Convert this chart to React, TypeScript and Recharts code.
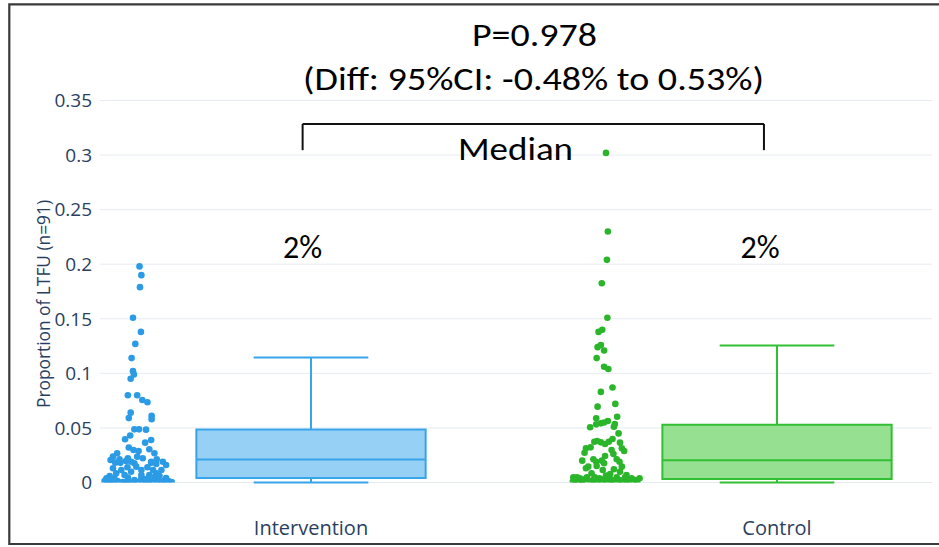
import {
  ComposedChart,
  Scatter,
  XAxis,
  YAxis,
  CartesianGrid,
  ReferenceArea,
  ReferenceLine,
} from "recharts";

const CATEGORIES = ["Intervention", "Control"];
const Y_TICKS = [0, 0.05, 0.1, 0.15, 0.2, 0.25, 0.3, 0.35];

// raw proportions per site
const interventionValues = [
  0.198, 0.19, 0.179, 0.151, 0.138, 0.127, 0.114, 0.102, 0.099, 0.095,
  0.08, 0.08, 0.0756, 0.0735, 0.064, 0.059, 0.061, 0.058, 0.0487, 0.0487,
  0.0484, 0.043, 0.0396, 0.0365, 0.039, 0.032, 0.0298, 0.0289, 0.0304, 0.0268,
  0.0213, 0.0268, 0.0237, 0.0206, 0.0213, 0.0182, 0.0222, 0.019, 0.0237, 0.0222,
  0.019, 0.019, 0.016, 0.013, 0.0115, 0.014, 0.0099, 0.0145, 0.0115, 0.014,
  0.0115, 0.0084, 0.0084, 0.006, 0.0069, 0.0069, 0.0069, 0.0014, 0.0005, 0.0017,
  0.0005, 0.0014, 0.0005, 0.001, 0.0005, 0.0023, 0.0005, 0.0014, 0.0005, 0.0018,
  0.0005, 0.0014, 0.0005, 0.0018, 0.0014, 0.0005, 0.004, 0.0045, 0.005, 0.006,
  0.018, 0.017, 0.0176, 0.0115, 0, 0.0032, 0.0041, 0.0041, 0.0038, 0.018,
  0.0197,
];
const interventionJitter = [
  0.0, 0.04, 0.01, -0.14, 0.03, -0.09, -0.17, -0.14, -0.12, -0.19,
  -0.25, -0.05, 0.06, 0.17, -0.19, -0.23, 0.26, 0.26, -0.11, -0.01,
  0.14, -0.2, -0.31, 0.12, 0.25, -0.23, -0.13, -0.02, 0.21, 0.32,
  0.37, -0.48, -0.57, -0.62, -0.43, -0.52, -0.25, -0.18, -0.05, 0.07,
  0.25, 0.5, 0.57, -0.57, -0.39, -0.26, -0.18, -0.07, 0.04, 0.17,
  0.29, 0.36, -0.5, -0.64, -0.32, 0.04, 0.21, -0.75, -0.68, -0.61,
  -0.54, -0.47, -0.36, -0.25, -0.18, -0.11, -0.04, 0.07, 0.14, 0.21,
  0.29, 0.39, 0.47, 0.54, 0.62, 0.69, 0.04, -0.25, 0.32, 0.43,
  -0.41, 0.36, -0.11, 0.47, -0.32, 0.14, -0.54, 0.57, -0.71, 0.25,
  -0.29,
];

const controlValues = [
  0.302, 0.23, 0.204, 0.1825, 0.151, 0.138, 0.14, 0.124, 0.126, 0.121,
  0.114, 0.106, 0.104, 0.083, 0.087, 0.0695, 0.072, 0.0588, 0.0603, 0.0506,
  0.0533, 0.0542, 0.055, 0.0563, 0.0536, 0.0511, 0.045, 0.0374, 0.038, 0.0368,
  0.0353, 0.0374, 0.0399, 0.0365, 0.0313, 0.0289, 0.0313, 0.0273, 0.0322, 0.0298,
  0.0261, 0.0243, 0.02, 0.0213, 0.019, 0.02, 0.0176, 0.0213, 0.019, 0.0145,
  0.013, 0.0145, 0.0151, 0.0115, 0.0121, 0.0099, 0.0084, 0.0078, 0.0069, 0.0048,
  0.0023, 0.0048, 0.0038, 0.0023, 0.003, 0.0048, 0.0008, 0.0008, 0.0002, 0.0023,
  0.0048, 0.0008, 0.0038, 0.0008, 0.003, 0.0008, 0.0048, 0.0023, 0.0008, 0.0048,
  0.0023, 0.0008, 0.0048, 0.0023, 0.0008, 0.0038, 0.0023, 0.0038, 0.0008, 0.0014,
  0.0064,
];
const controlJitter = [
  0.01, 0.05, 0.03, -0.08, 0.04, -0.15, -0.07, -0.17, -0.1, -0.03,
  -0.19, -0.03, 0.06, -0.1, 0.15, -0.17, 0.21, -0.2, 0.25, -0.33,
  -0.2, -0.1, -0.03, 0.05, 0.2, 0.18, 0.28, -0.24, -0.18, -0.1,
  -0.01, 0.07, 0.15, 0.31, 0.35, 0.4, -0.42, -0.45, -0.32, 0.13,
  0.17, -0.01, -0.5, -0.26, -0.2, -0.08, -0.03, 0.24, 0.3, 0.35,
  -0.42, -0.37, -0.19, -0.06, 0.18, 0.31, -0.3, 0.1, 0.45, -0.69,
  -0.65, -0.61, -0.55, -0.51, -0.44, -0.4, -0.7, -0.58, -0.49, -0.26,
  -0.23, -0.18, -0.13, -0.08, -0.03, 0.04, 0.08, 0.13, 0.18, 0.24,
  0.3, 0.35, 0.42, 0.45, 0.51, 0.56, 0.63, 0.73, 0.68, -0.33,
  0.01,
];

// box summaries: lower fence, q1, median, q3, upper fence
const interventionBox = [0, 0.0041, 0.021, 0.0486, 0.1145];
const controlBox = [0, 0.0032, 0.0205, 0.053, 0.1255];

const COLORS = [
  { point: "#2c9be6", fill: "#97d0f5", stroke: "#38a4ea" },
  { point: "#2ab52a", fill: "#95e091", stroke: "#33bf33" },
];

const X_MIN = -0.4528;
const X_MAX = 1.3326;
const POINT_POS = -0.368;
const JITTER = 0.1;
const BOX_HALF = 0.246;
const CAP_HALF = 0.123;

const toPoints = (values: number[], jitter: number[], cat: number) =>
  values.map((v, i) => ({ x: cat + POINT_POS + jitter[i] * JITTER, y: v }));

const groups = [
  { points: toPoints(interventionValues, interventionJitter, 0), box: interventionBox },
  { points: toPoints(controlValues, controlJitter, 1), box: controlBox },
];

const ANNOT_FONT = "Carlito, Calibri, Lato, sans-serif";

export default function App() {
  return (
    <div style={{ position: "absolute", left: 0, top: 0, width: 939, height: 547, background: "#fff" }}>
      <ComposedChart width={939} height={547} margin={{ top: 100.5, right: 7, bottom: 4.5, left: 40 }}>
        <CartesianGrid vertical={false} stroke="#e6ebf3" />
        <XAxis
          dataKey="x"
          type="number"
          domain={[X_MIN, X_MAX]}
          ticks={[0, 1]}
          tickFormatter={(v: number) => CATEGORIES[v] ?? ""}
          allowDataOverflow
          axisLine={false}
          tickLine={false}
          height={60}
          tickMargin={32}
          tick={{ fill: "#2a3f5f", fontSize: 20, fontFamily: "Open Sans" }}
        />
        <YAxis
          dataKey="y"
          type="number"
          domain={[0, 0.35]}
          ticks={Y_TICKS}
          allowDataOverflow
          axisLine={false}
          tickLine={false}
          width={60}
          tick={{ fill: "#2a3f5f", fontSize: 19, fontFamily: "Open Sans" }}
          tickFormatter={(v: number) => String(v)}
        />
        {groups.map((g, c) => {
          const [lo, q1, med, q3, hi] = g.box;
          const col = COLORS[c];
          return [
            <ReferenceArea
              key={`box${c}`}
              x1={c - BOX_HALF}
              x2={c + BOX_HALF}
              y1={q1}
              y2={q3}
              fill={col.fill}
              fillOpacity={1}
              stroke={col.stroke}
              strokeWidth={2}
              ifOverflow="visible"
            />,
            <ReferenceLine key={`med${c}`} segment={[{ x: c - BOX_HALF, y: med }, { x: c + BOX_HALF, y: med }]} stroke={col.stroke} strokeWidth={2} ifOverflow="visible" />,
            <ReferenceLine key={`wu${c}`} segment={[{ x: c, y: q3 }, { x: c, y: hi }]} stroke={col.stroke} strokeWidth={2} ifOverflow="visible" />,
            <ReferenceLine key={`wl${c}`} segment={[{ x: c, y: lo }, { x: c, y: q1 }]} stroke={col.stroke} strokeWidth={2} ifOverflow="visible" />,
            <ReferenceLine key={`cu${c}`} segment={[{ x: c - CAP_HALF, y: hi }, { x: c + CAP_HALF, y: hi }]} stroke={col.stroke} strokeWidth={2} ifOverflow="visible" />,
            <ReferenceLine key={`cl${c}`} segment={[{ x: c - CAP_HALF, y: lo }, { x: c + CAP_HALF, y: lo }]} stroke={col.stroke} strokeWidth={2} ifOverflow="visible" />,
          ];
        })}
        {groups.map((g, c) => (
          <Scatter
            key={`pts${c}`}
            data={g.points}
            isAnimationActive={false}
            shape={(p: { cx?: number; cy?: number }) => (
              <circle cx={p.cx} cy={p.cy} r={3.3} fill={COLORS[c].point} />
            )}
          />
        ))}
        {/* median comparison bracket */}
        <ReferenceLine segment={[{ x: -0.018, y: 0.3285 }, { x: 0.972, y: 0.3285 }]} stroke="#111" strokeWidth={2} ifOverflow="visible" />
        <ReferenceLine segment={[{ x: -0.018, y: 0.3285 }, { x: -0.018, y: 0.3045 }]} stroke="#111" strokeWidth={2} ifOverflow="visible" />
        <ReferenceLine segment={[{ x: 0.972, y: 0.3285 }, { x: 0.972, y: 0.3045 }]} stroke="#111" strokeWidth={2} ifOverflow="visible" />
      </ComposedChart>

      <svg width={939} height={547} style={{ position: "absolute", left: 0, top: 0, pointerEvents: "none" }}>
        {/* slide frame */}
        <path d="M 9.3 545 L 9.3 4.3 L 939 4.3" fill="none" stroke="#3a3a3a" strokeWidth={2.2} />
        <path d="M 9.3 544 L 939 544" fill="none" stroke="#3a3a3a" strokeWidth={2} />
        <text
          x={43}
          y={304}
          transform="rotate(-90 43 304)"
          textAnchor="middle"
          dominantBaseline="central"
          fontFamily="Open Sans"
          fontSize={18}
          fill="#2a3f5f"
          textLength={208}
          lengthAdjust="spacingAndGlyphs"
        >
          Proportion of LTFU (n=91)
        </text>
        <g fontFamily={ANNOT_FONT} fontSize={32} fill="#000">
          <text x={534.5} y={46} textAnchor="middle" textLength={125} lengthAdjust="spacingAndGlyphs">P=0.978</text>
          <text x={533.5} y={90} textAnchor="middle" textLength={461} lengthAdjust="spacingAndGlyphs">(Diff: 95%CI: -0.48% to 0.53%)</text>
          <text x={515.5} y={160} textAnchor="middle" textLength={115} lengthAdjust="spacingAndGlyphs">Median</text>
          <text x={302.5} y={258} textAnchor="middle">2%</text>
          <text x={760} y={258} textAnchor="middle">2%</text>
        </g>
      </svg>
    </div>
  );
}
